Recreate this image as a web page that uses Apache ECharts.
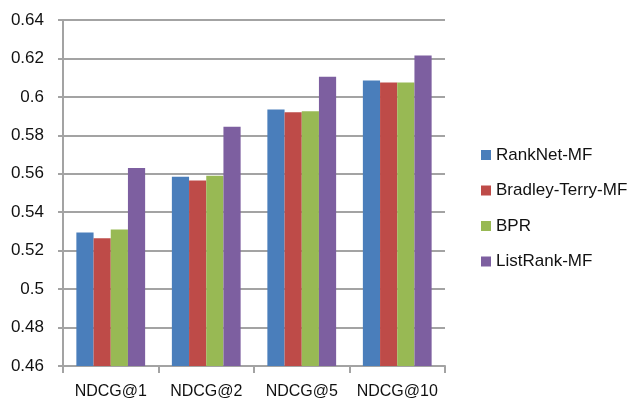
<!DOCTYPE html>
<html>
<head>
<meta charset="utf-8">
<script src="https://cdn.jsdelivr.net/npm/echarts@6/dist/echarts.min.js"></script>
<style>
  html, body { margin: 0; padding: 0; background: #fff; }
  #chart { width: 631px; height: 400px; }
</style>
</head>
<body>
<div id="chart"></div>
<script>
// Ranking metrics per method
const categories = ['NDCG@1', 'NDCG@2', 'NDCG@5', 'NDCG@10'];
const seriesNames = ['RankNet-MF', 'Bradley-Terry-MF', 'BPR', 'ListRank-MF'];
const rankNetMF = [0.5295, 0.5585, 0.5935, 0.6085];
const bradleyTerryMF = [0.5265, 0.5565, 0.592, 0.6075];
const bpr = [0.531, 0.559, 0.5925, 0.6075];
const listRankMF = [0.563, 0.5845, 0.6105, 0.6215];
const colors = ['#4A7EBB', '#BE4B48', '#98B954', '#7D5FA0'];

const values = [rankNetMF, bradleyTerryMF, bpr, listRankMF];
const font = 'Liberation Sans, Arial, sans-serif';
const gridGray = '#A3A3A3';

const chart = echarts.init(document.getElementById('chart'), null, { renderer: 'canvas' });
chart.setOption({
  animation: false,
  color: colors,
  grid: { left: 63, right: 186, top: 20, bottom: 34, containLabel: false },
  legend: {
    orient: 'vertical',
    left: 476,
    top: 140,
    itemWidth: 10,
    itemHeight: 10,
    itemGap: 15.5,
    icon: 'rect',
    textStyle: { fontFamily: font, fontSize: 17, color: '#111', lineHeight: 20 },
    data: seriesNames
  },
  xAxis: {
    type: 'category',
    data: categories,
    axisLine: { lineStyle: { color: gridGray, width: 2 } },
    axisTick: { show: true, length: 7, lineStyle: { color: gridGray, width: 2 } },
    axisLabel: { interval: 0, fontFamily: font, fontSize: 16, color: '#111', margin: 18 }
  },
  yAxis: {
    type: 'value',
    min: 0.46,
    max: 0.64,
    interval: 0.02,
    axisLine: { show: true, lineStyle: { color: gridGray, width: 2 } },
    axisTick: { show: true, length: 5, lineStyle: { color: gridGray, width: 2 } },
    splitLine: { lineStyle: { color: gridGray, width: 2 } },
    axisLabel: {
      fontFamily: font, fontSize: 17, color: '#111', margin: 19,
      formatter: v => String(+v.toFixed(2))
    }
  },
  series: seriesNames.map((name, i) => ({
    name,
    type: 'bar',
    data: values[i],
    barGap: '0%',
    barCategoryGap: '28%',
    itemStyle: { color: colors[i] }
  }))
});
</script>
</body>
</html>
